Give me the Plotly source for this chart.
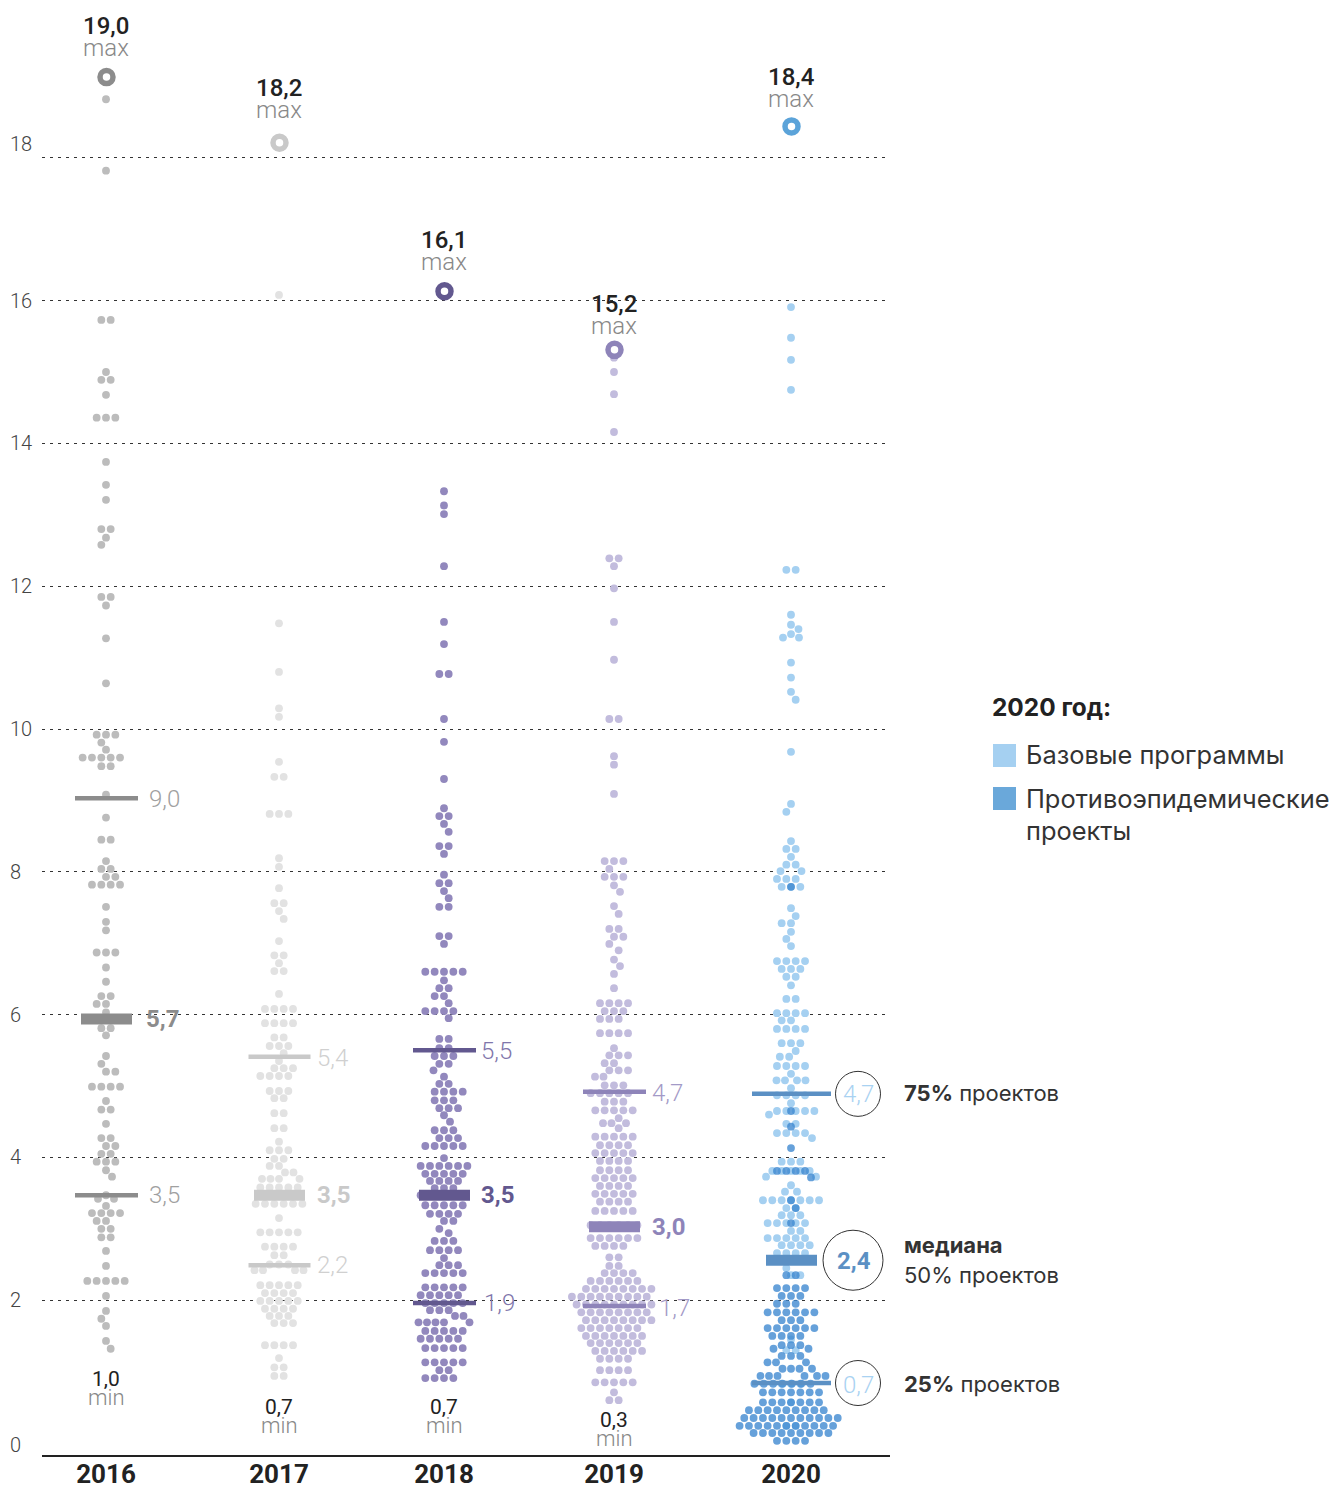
import plotly.graph_objects as go

YEARS = ["2016", "2017", "2018", "2019", "2020"]
CENTERS = [106, 279, 444, 614, 791]
Y_TICKS = [0, 2, 4, 6, 8, 10, 12, 14, 16, 18]

# rows of the swarm: value and number of projects with about that value
V2016 = [18.82,17.82,15.73,15.0,14.89,14.68,14.36,13.74,13.42,13.21,12.8,12.68,12.58,11.85,11.73,11.27,10.64,9.92,9.81,9.71,9.6,9.48,9.08,8.76,8.45,8.15,8.04,7.93,7.82,7.51,7.3,7.18,6.87,6.66,6.46,6.26,6.15,6.03,5.94,5.81,5.71,5.42,5.31,5.2,4.99,4.79,4.67,4.47,4.27,4.16,4.05,3.94,3.82,3.73,3.47,3.42,3.32,3.22,3.11,3.0,2.88,2.69,2.48,2.27,2.06,1.85,1.74,1.64,1.43,1.32]
N2016 = [1,1,2,1,2,1,3,1,1,1,2,1,1,2,1,1,1,3,1,1,5,2,1,1,2,1,2,2,4,1,1,1,3,1,1,2,2,1,3,2,1,1,1,2,4,1,2,1,2,2,2,3,1,1,1,2,1,4,2,2,2,1,1,5,1,1,1,1,1,1]
V2017 = [16.08,11.48,10.8,10.29,10.17,9.54,9.33,8.81,8.19,8.07,7.77,7.56,7.45,7.34,7.03,6.83,6.72,6.61,6.29,6.08,5.88,5.68,5.56,5.46,5.35,5.25,5.14,4.93,4.83,4.62,4.41,4.22,4.1,3.98,3.88,3.79,3.7,3.58,3.47,3.35,3.15,2.95,2.75,2.63,2.5,2.42,2.21,2.1,1.99,1.88,1.78,1.68,1.37,1.19,1.06,0.94]
N2017 = [1,1,1,1,1,1,2,3,1,1,1,2,1,1,1,2,1,2,1,4,4,2,3,1,1,3,4,3,2,2,2,1,3,2,2,2,4,5,4,6,1,5,4,2,3,4,5,4,5,4,3,3,4,1,2,2]
V2018 = [13.33,13.13,13.01,12.28,11.5,11.19,10.77,10.14,9.82,9.3,8.89,8.78,8.67,8.56,8.36,8.25,7.96,7.84,7.73,7.63,7.51,7.1,6.99,6.6,6.48,6.37,6.26,6.16,6.05,5.95,5.66,5.53,5.42,5.31,5.22,5.13,5.03,4.92,4.8,4.69,4.59,4.5,4.38,4.27,4.16,3.99,3.88,3.77,3.67,3.57,3.47,3.33,3.21,3.11,3.0,2.94,2.83,2.7,2.59,2.49,2.38,2.18,2.07,1.96,1.86,1.78,1.69,1.57,1.46,1.33,1.13,1.02,0.91]
N2018 = [1,1,1,1,1,1,2,1,1,1,1,2,1,1,2,1,1,2,1,1,2,2,1,5,1,2,2,1,4,1,2,2,3,2,1,1,2,4,3,3,1,1,3,3,5,1,6,5,4,3,5,5,4,2,1,1,3,4,1,3,5,5,5,5,3,2,5,5,5,5,5,2,4]
V2019 = [15.2,15.0,14.69,14.16,12.39,12.28,11.97,11.5,10.97,10.14,9.62,9.5,9.09,8.15,8.04,7.93,7.81,7.72,7.52,7.41,7.2,7.09,6.99,6.9,6.77,6.68,6.57,6.37,6.16,6.05,5.94,5.74,5.53,5.43,5.32,5.22,5.13,5.01,4.9,4.78,4.66,4.55,4.48,4.41,4.29,4.17,4.06,3.95,3.82,3.71,3.6,3.49,3.38,3.25,3.05,2.87,2.76,2.6,2.48,2.38,2.27,2.16,2.05,1.94,1.83,1.72,1.61,1.5,1.4,1.29,1.18,1.02,0.85,0.71,0.6]
N2019 = [1,1,1,1,2,1,1,1,1,2,1,1,1,3,1,3,1,1,1,1,2,2,1,1,1,1,1,1,4,3,3,4,1,3,2,3,2,3,5,3,5,1,3,1,5,4,5,4,4,5,4,5,4,5,6,6,4,2,2,4,6,8,9,9,8,8,7,7,6,6,4,4,5,1,2]
V2020_BASE = [15.91,15.48,15.17,14.75,12.23,11.6,11.46,11.4,11.33,11.28,10.93,10.72,10.52,10.41,9.68,8.95,8.84,8.43,8.32,8.21,8.1,8.01,7.9,7.79,7.49,7.38,7.28,7.16,7.06,6.96,6.75,6.64,6.53,6.41,6.22,6.02,5.92,5.8,5.6,5.49,5.41,5.28,5.17,5.08,4.97,4.87,4.76,4.65,4.6,4.47,4.34,4.27,3.94,3.81,3.73,3.61,3.52,3.4,3.29,3.19,3.08,2.97,2.87,2.77,2.66,2.56,2.45,2.35,1.45,1.3,0.83,0.57,0.24]
N2020_BASE = [1,1,1,1,2,1,1,1,1,2,1,1,1,1,1,1,1,1,2,1,2,2,3,3,1,1,2,1,1,1,4,3,2,1,2,4,2,4,3,1,2,4,1,4,1,4,1,5,1,2,4,1,3,5,2,1,2,7,2,3,5,2,5,4,4,3,1,2,1,2,3,1,2]
V2020_EPID = [7.79,4.65,4.43,4.13,3.81,3.72,3.4,3.29,3.08,2.35,2.17,2.06,1.95,1.83,1.72,1.61,1.5,1.37,1.32,1.22,1.13,1.04,0.94,0.83,0.71,0.57,0.46,0.35,0.24,0.14,0.03]
N2020_EPID = [1,1,1,1,4,1,1,1,1,2,4,3,3,6,3,6,4,3,2,3,3,4,6,7,7,7,9,11,11,9,4]

# highest project of each year: drawn value and printed value
MAX_POINTS = [19.13, 18.21, 16.13, 15.31, 18.44]
MAX_LABELS = ["19,0", "18,2", "16,1", "15,2", "18,4"]
MIN_LABELS = ["1,0", "0,7", "0,7", "0,3", None]
# quartiles: upper, median, lower (drawn position / printed value)
Q_UP = [9.03, 5.41, 5.50, 4.92, 4.89]
Q_MED = [5.94, 3.47, 3.47, 3.03, 2.56]
Q_LOW = [3.47, 2.49, 1.96, 1.92, 0.84]
Q_UP_L = ["9,0", "5,4", "5,5", "4,7", "4,7"]
Q_MED_L = ["5,7", "3,5", "3,5", "3,0", "2,4"]
Q_LOW_L = ["3,5", "2,2", "1,9", "1,7", "0,7"]

DOT = ["#bcbcbc", "#e2e2e2", "#9288bd", "#c2bcdd", "#a5d0f1"]
MAIN = ["#8c8c8c", "#c9c9c9", "#62588f", "#8e84b9", "#5b90c4"]
RING = ["#8c8c8c", "#c9c9c9", "#62588f", "#8e84b9", "#5ba3d9"]
LBL = ["#a0a0a0", "#d0d0d0", "#7f76ab", "#a39ac7", "#a9d2f2"]
EPID = "#3b86d0"

# page geometry
W, H = 1335, 1488
L, R, B = 42, 890, 1455
K = 71.4          # pixels per unit
Y0 = 1443         # pixel row of value 0
S, D = 9.35, 8.5  # dot pitch, minimum centre distance


def swarm(values, counts):
    placed, xs, ys = [], [], []
    for r, (v, n) in enumerate(zip(values, counts)):
        y = v * K
        base = [(i - (n - 1) / 2) * S for i in range(n)]
        sign = 1 if r % 2 else -1
        cands = [0, sign * S / 2, -sign * S / 2]
        for j in range(1, 20):
            cands += [sign * j * 0.5, -sign * j * 0.5]
        trial = None
        for sh in cands:
            t = [(b + sh, y) for b in base]
            if all((a - c) ** 2 + (b - d) ** 2 >= D ** 2 for a, b in t for c, d in placed):
                trial = t
                break
        if trial is None:
            trial = []
            for k in range(n):
                side = 1 if (k + r) % 2 else -1
                for j in range(0, 200):
                    xx = side * (j // 2) * 0.5 * (1 if j % 2 == 0 else -1)
                    if all((xx - c) ** 2 + (y - d) ** 2 >= D ** 2 for c, d in placed + trial):
                        trial.append((xx, y))
                        break
        placed += trial
        for a, b in trial:
            xs.append(a)
            ys.append(v)
    return xs, ys


def px(x):
    return (x - L) / (R - L)


def py(y):
    return (B - y) / B


fig = go.Figure()
SERIES = [(V2016, N2016), (V2017, N2017), (V2018, N2018), (V2019, N2019), (V2020_BASE, N2020_BASE)]
for i, (vals, cnts) in enumerate(SERIES):
    xs, ys = swarm(vals, cnts)
    fig.add_trace(go.Scatter(x=[CENTERS[i] + a for a in xs], y=ys, mode="markers", name=YEARS[i],
                             showlegend=False, cliponaxis=False,
                             marker=dict(size=7.8, color=DOT[i], line=dict(width=0))))
xs, ys = swarm(V2020_EPID, N2020_EPID)
fig.add_trace(go.Scatter(x=[CENTERS[4] + a for a in xs], y=ys, mode="markers", name="Противоэпидемические проекты",
                         showlegend=False, cliponaxis=False,
                         marker=dict(size=7.8, color=EPID, opacity=0.78, line=dict(width=0))))

THIN_HALF = [31.5, 31, 31.5, 31.5, 39.5]
FAT_HALF = 25.5
for i, c in enumerate(CENTERS):
    for q, half, lw in ((Q_UP[i], THIN_HALF[i], 4.5), (Q_LOW[i], THIN_HALF[i], 4.5), (Q_MED[i], FAT_HALF, 11)):
        fig.add_trace(go.Scatter(x=[c + 0.5 - half, c + 0.5 + half], y=[q, q], mode="lines", showlegend=False,
                                 line=dict(color=MAIN[i], width=lw)))
    fig.add_trace(go.Scatter(x=[c + 0.5], y=[MAX_POINTS[i]], mode="markers", showlegend=False, cliponaxis=False,
                             marker=dict(size=13, color="white", line=dict(color=RING[i], width=5.5))))

ann = []
LIGHT = "Roboto"


def text(x, y, s, size, color="#222", anchor="center", weight=400, family=LIGHT):
    if anchor == "left":
        x -= 2
    ann.append(dict(xref="paper", yref="paper", x=px(x), y=py(y), text=s, showarrow=False, xanchor=anchor,
                    yanchor="middle", align="left",
                    font=dict(size=size, color=color, family=family, weight=weight)))


for t in Y_TICKS:
    ty = Y0 - t * K
    if t == 18:
        ty -= 14
    if t == 0:
        ty += 2
    text(10, ty, str(t), 20, "#444", "left", 300)

MAX_Y = [26, 88, 240, 304, 77]
for i, c in enumerate(CENTERS):
    text(c, MAX_Y[i], MAX_LABELS[i], 24, "#222", weight=500)
    text(c, MAX_Y[i] + 22, "max", 24, "#888", weight=300)

MIN_Y = [1379, 1407, 1407, 1420]
for i in range(4):
    text(CENTERS[i], MIN_Y[i], MIN_LABELS[i], 21, "#222")
    text(CENTERS[i], MIN_Y[i] + 18, "min", 22, "#888", weight=300)

LBL_X = [149, 317, 481, 652]
for i in range(4):
    low_x = LBL_X[i] + (3 if i == 2 else 7 if i == 3 else 0)
    text(LBL_X[i], Y0 - Q_UP[i] * K + 1, Q_UP_L[i], 24, LBL[i], "left", 300)
    text(LBL_X[i] - (3 if i == 0 else 0), Y0 - Q_MED[i] * K, Q_MED_L[i], 24, MAIN[i], "left", 700)
    text(low_x, Y0 - Q_LOW[i] * K + (2 if i == 3 else 0), Q_LOW_L[i], 24, LBL[i], "left", 300)

# 2020 circled labels and notes
text(858, 1094, Q_UP_L[4], 24, LBL[4], "center", 300)
text(854, 1261, Q_MED_L[4], 24, MAIN[4], "center", 700)
text(858, 1385, Q_LOW_L[4], 24, LBL[4], "center", 300)
text(904, 1093, "<b>75%</b> проектов", 22, "#333", "left", 400, "Inter")
text(904, 1245, "<b>медиана</b>", 22, "#333", "left", 400, "Inter")
text(904, 1275, "50% проектов", 22, "#333", "left", 400, "Inter")
text(904, 1384, "<b>25%</b> проектов", 22, "#333", "left", 400, "Inter")

# key
text(992, 707, "<b>2020 год:</b>", 24.4, "#222", "left", 400, "Inter")
text(1026, 755, "Базовые программы", 25.4, "#333", "left", 400, "Inter")
text(1026, 798, "Противоэпидемические", 25.4, "#333", "left", 400, "Inter")
text(1026, 830, "проекты", 25.4, "#333", "left", 400, "Inter")

shapes = [
    dict(type="rect", xref="paper", yref="paper", x0=px(993), x1=px(1016), y0=py(744), y1=py(767),
         fillcolor="#a5d0f1", line=dict(width=0)),
    dict(type="rect", xref="paper", yref="paper", x0=px(993), x1=px(1016), y0=py(787), y1=py(810),
         fillcolor="#6aa8da", line=dict(width=0)),
]
for cx, cv, rad in ((858, Q_UP[4], 22.5), (853, Q_MED[4], 30), (858, Q_LOW[4], 22.5)):
    shapes.append(dict(type="circle", xref="x", yref="y", xsizemode="pixel", ysizemode="pixel",
                       xanchor=cx, yanchor=cv, x0=-rad, x1=rad, y0=-rad, y1=rad,
                       line=dict(color="#333", width=1), fillcolor="rgba(0,0,0,0)"))

fig.update_layout(
    width=W, height=H, autosize=False, margin=dict(l=L, r=W - R, t=0, b=H - B, pad=0),
    paper_bgcolor="white", plot_bgcolor="white", showlegend=False, annotations=ann, shapes=shapes,
    xaxis=dict(range=[L, R], tickmode="array", tickvals=CENTERS, ticktext=YEARS, showgrid=False, zeroline=False,
               showline=True, linecolor="#222", linewidth=2, ticks="", automargin=False, ticklabelstandoff=-5,
               tickfont=dict(family="Roboto", size=26, color="#222", weight=700)),
    yaxis=dict(range=[(Y0 - B) / K, Y0 / K], tickmode="array", tickvals=[t for t in Y_TICKS if t], showticklabels=False,
               automargin=False, showgrid=True, gridcolor="#333", gridwidth=1, griddash="3px,5px", zeroline=False,
               showline=False, ticks=""),
)
fig.write_html("out.html", config={"displayModeBar": False},
               post_script="document.body.style.margin='0';document.documentElement.style.overflow='hidden';")
